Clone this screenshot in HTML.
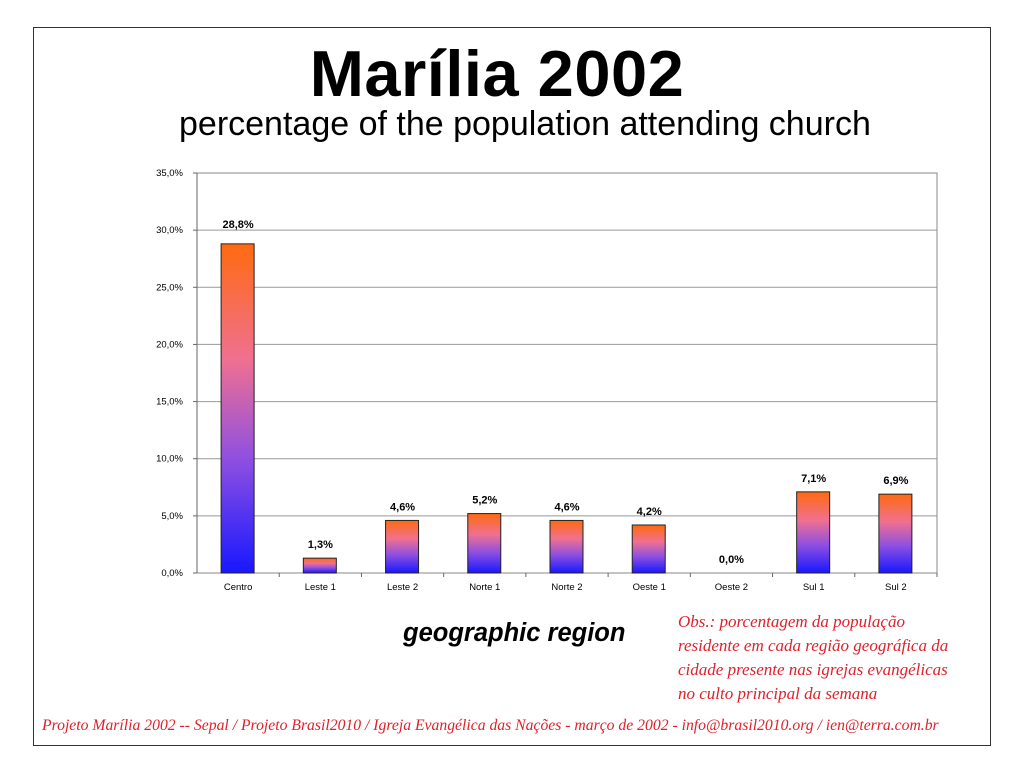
<!DOCTYPE html>
<html><head><meta charset="utf-8"><style>
body{margin:0;background:#fff;width:1024px;height:768px;overflow:hidden;font-family:"Liberation Sans",sans-serif}
#frame{position:absolute;left:33px;top:27px;width:956px;height:717px;border:1px solid #333}
.t{position:absolute;white-space:nowrap}
</style></head><body>
<div id="frame"></div>
<div class="t" style="left:0;width:994px;text-align:center;top:36px;font-size:65px;font-weight:bold;letter-spacing:0.5px">Marília 2002</div>
<div class="t" style="left:179px;top:105px;font-size:34px">percentage of the population attending church</div>
<svg id="chart" width="1024" height="768" style="position:absolute;left:0;top:0"></svg>
<div class="t" style="left:403px;top:619px;font-size:25.5px;font-weight:bold;font-style:italic">geographic region</div>
<div class="t" style="left:678px;top:610px;font-family:'Liberation Serif',serif;font-style:italic;font-size:17px;color:#e0202a;line-height:24px">Obs.: porcentagem da população<br>residente em cada região geográfica da<br>cidade presente nas igrejas evangélicas<br>no culto principal da semana</div>
<div class="t" style="left:42px;top:717px;font-family:'Liberation Serif',serif;font-style:italic;font-size:15.7px;color:#e0202a">Projeto Marília 2002 -- Sepal / Projeto Brasil2010 / Igreja Evangélica das Nações - março de 2002 - info@brasil2010.org / ien@terra.com.br</div>
<script>
const categories=["Centro","Leste 1","Leste 2","Norte 1","Norte 2","Oeste 1","Oeste 2","Sul 1","Sul 2"];
const values=[28.8,1.3,4.6,5.2,4.6,4.2,0.0,7.1,6.9];
const valueLabels=["28,8%","1,3%","4,6%","5,2%","4,6%","4,2%","0,0%","7,1%","6,9%"];
const ticks=[0,5,10,15,20,25,30,35];
const tickLabels=["0,0%","5,0%","10,0%","15,0%","20,0%","25,0%","30,0%","35,0%"];
const NS="http://www.w3.org/2000/svg",svg=document.getElementById('chart');
const L=197,R=937,T=173,B=573,ymax=35;
const y=v=>B-(v/ymax)*(B-T);
const bw=(R-L)/categories.length;
const x=i=>L+bw*i+bw/2;
function mk(tag,a){const e=document.createElementNS(NS,tag);for(const k in a)e.setAttribute(k,a[k]);svg.appendChild(e);return e;}
const defs=mk('defs',{});
const g=document.createElementNS(NS,'linearGradient');g.id='gr';g.setAttribute('x1',0);g.setAttribute('y1',0);g.setAttribute('x2',0);g.setAttribute('y2',1);
[["0","#ff6a10"],["0.35","#f07090"],["0.65","#9050e0"],["1","#1818ff"]].forEach(s=>{const st=document.createElementNS(NS,'stop');st.setAttribute('offset',s[0]);st.setAttribute('stop-color',s[1]);g.appendChild(st);});
defs.appendChild(g);
ticks.forEach((t,i)=>{
 const gl=mk('line',{x1:L,x2:R,y1:y(t),y2:y(t),stroke:'#999','stroke-width':1});
 
 mk('line',{x1:L-4,x2:L,y1:y(t),y2:y(t),stroke:'#666'});
 const tx=mk('text',{x:L-14,y:y(t)+3,'text-anchor':'end','font-size':9.5,fill:'#000'});tx.textContent=tickLabels[i];
 
});
mk('rect',{x:L,y:T,width:R-L,height:B-T,fill:'none',stroke:'#888'});
mk('line',{x1:L,x2:L,y1:T,y2:B,stroke:'#666'});
categories.forEach((c,i)=>{
 const v=values[i],cx=x(i);
 if(v>0){const r=mk('rect',{x:cx-17,y:y(v),width:33,height:B-y(v),fill:'url(#gr)',stroke:'#222','stroke-width':1});
 }
 mk('line',{x1:L+bw*(i+1),x2:L+bw*(i+1),y1:B,y2:B+4,stroke:'#666'});
 const vl=mk('text',{x:cx,y:y(v)-(v>20?16:10),'text-anchor':'middle','font-size':11,'font-weight':'bold'});vl.textContent=valueLabels[i];
 
 const xl=mk('text',{x:cx,y:B+17,'text-anchor':'middle','font-size':9.5});xl.textContent=c;
 
});
</script>
</body></html>
